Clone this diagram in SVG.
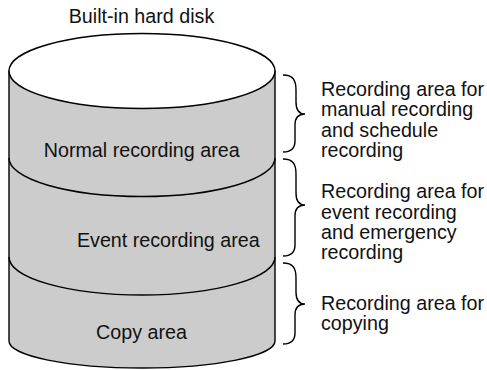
<svg xmlns="http://www.w3.org/2000/svg" width="487" height="370" viewBox="0 0 487 370">
<style>
text{font-family:"Liberation Sans",Arial,sans-serif;font-size:19.7px;fill:#111}
.c{text-anchor:middle}
.ln{fill:none;stroke:#000;stroke-width:1.4}
.body{fill:#cccccc;stroke:#000;stroke-width:1.4}
</style>
<rect width="487" height="370" fill="#fff"/>
<g id="title"><text class="c" x="141.5" y="23">Built-in hard disk</text></g>
<g id="disk">
<path class="body" d="M9 71 L9 341 A133 27 0 0 0 275 341 L275 71 Z"/>
<ellipse cx="142" cy="71" rx="133" ry="37.5" fill="#fff" stroke="#000" stroke-width="1.4"/>
</g>
<g id="normal-area">
<text class="c" x="141.7" y="157">Normal recording area</text>
</g>
<g id="event-area">
<path class="ln" d="M9 158 A133 38.5 0 0 0 275 158"/>
<text class="c" x="168.3" y="246.5">Event recording area</text>
</g>
<g id="copy-area">
<path class="ln" d="M9 257 A133 38 0 0 0 275 257"/>
<text class="c" x="141.5" y="339">Copy area</text>
</g>
<g id="connectors">
<path class="ln" d="M283 75 C293 75 296 80 296 90 L296 102 C296 110 299 114 305 114 C299 114 295 117 295 125 L295 141 C295 148 291 152 283 152"/>
<path class="ln" d="M283 159 C293 159 296 164 296 174 L296 193 C296 201 299 205 305 205 C299 205 295 208 295 216 L295 245 C295 252 291 256 283 256"/>
<path class="ln" d="M283 263 C293 263 296 268 296 278 L296 292 C296 300 299 304 305 304 C299 304 295 307 295 315 L295 333 C295 340 291 344 283 344"/>
</g>
<g id="label-normal">
<text x="321" y="96">Recording area for</text>
<text x="321" y="116.3">manual recording</text>
<text x="321" y="136.6">and schedule</text>
<text x="321" y="157">recording</text>
</g>
<g id="label-event">
<text x="321" y="198.3">Recording area for</text>
<text x="321" y="218.6">event recording</text>
<text x="321" y="239">and emergency</text>
<text x="321" y="259.3">recording</text>
</g>
<g id="label-copy">
<text x="321" y="310">Recording area for</text>
<text x="321" y="330.3">copying</text>
</g>
</svg>
